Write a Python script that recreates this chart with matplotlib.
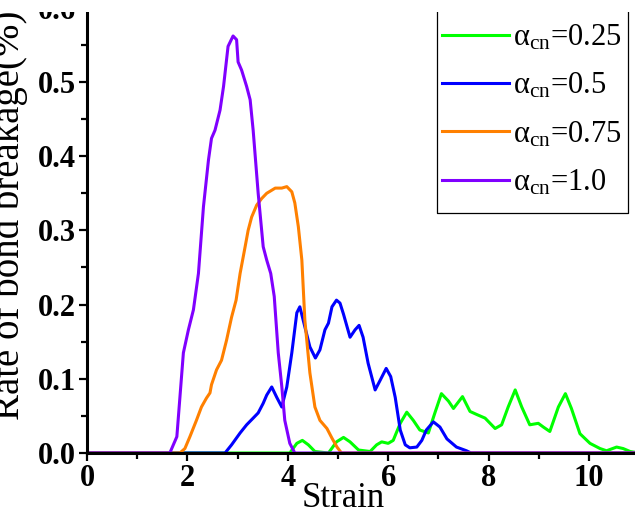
import matplotlib
matplotlib.use('Agg')
import matplotlib.pyplot as plt
from matplotlib.patches import Rectangle
from matplotlib.ticker import MultipleLocator, FormatStrFormatter

plt.rcParams['font.family'] = ['Liberation Serif', 'DejaVu Serif']
plt.rcParams['mathtext.fontset'] = 'custom'
plt.rcParams['mathtext.rm'] = 'Liberation Serif'
plt.rcParams['mathtext.it'] = 'Liberation Serif:italic'

# alpha_cn = 0.25
strain_025 = [0, 4.04, 4.18, 4.29, 4.41, 4.54, 4.81, 4.97, 5.11, 5.24, 5.41, 5.64, 5.77, 5.87,
              6.0, 6.1, 6.24, 6.37, 6.5, 6.63, 6.8, 6.93, 7.06, 7.2, 7.3, 7.48, 7.63, 7.76,
              7.93, 8.13, 8.26, 8.39, 8.53, 8.66, 8.82, 8.99, 9.09, 9.22, 9.39, 9.53, 9.65,
              9.82, 10.02, 10.22, 10.35, 10.55, 10.68, 10.82, 11.0]
rate_025 = [0, 0, 0.013, 0.017, 0.011, 0.002, 0.0, 0.015, 0.021, 0.015, 0.004, 0.002, 0.011, 0.015,
            0.013, 0.017, 0.040, 0.055, 0.044, 0.031, 0.027, 0.054, 0.080, 0.070, 0.060, 0.076, 0.056, 0.052,
            0.047, 0.033, 0.038, 0.062, 0.085, 0.062, 0.038, 0.040, 0.035, 0.029, 0.062, 0.080, 0.060,
            0.026, 0.013, 0.006, 0.003, 0.008, 0.006, 0.002, 0.0]

# alpha_cn = 0.5
strain_05 = [0, 2.75, 2.88, 3.05, 3.18, 3.31, 3.41, 3.51, 3.58, 3.68, 3.78, 3.88, 3.98, 4.08,
             4.18, 4.24, 4.34, 4.44, 4.55, 4.64, 4.74, 4.81, 4.88, 4.97, 5.04, 5.11, 5.24, 5.34,
             5.42, 5.5, 5.6, 5.74, 5.84, 5.96, 6.05, 6.14, 6.24, 6.34, 6.43, 6.57, 6.67, 6.76,
             6.9, 7.03, 7.17, 7.36, 7.56, 7.65, 11.0]
rate_05 = [0, 0, 0.011, 0.027, 0.038, 0.047, 0.054, 0.067, 0.078, 0.089, 0.075, 0.062, 0.089, 0.135,
           0.189, 0.197, 0.170, 0.143, 0.128, 0.139, 0.166, 0.175, 0.197, 0.206, 0.202, 0.187, 0.156, 0.166,
           0.172, 0.156, 0.121, 0.085, 0.098, 0.114, 0.103, 0.075, 0.031, 0.011, 0.007, 0.008, 0.017, 0.031,
           0.042, 0.035, 0.019, 0.008, 0.003, 0.0, 0.0]

# alpha_cn = 0.75
strain_075 = [0, 1.85, 1.95, 2.05, 2.18, 2.28, 2.38, 2.45, 2.48, 2.58, 2.68, 2.78, 2.88, 2.97,
              3.05, 3.15, 3.21, 3.28, 3.38, 3.48, 3.58, 3.75, 3.88, 3.98, 4.08, 4.14, 4.21, 4.28,
              4.34, 4.44, 4.54, 4.64, 4.78, 4.88, 4.98, 5.07, 11.0]
rate_075 = [0, 0, 0.006, 0.022, 0.044, 0.062, 0.074, 0.081, 0.092, 0.112, 0.125, 0.152, 0.183, 0.206,
            0.242, 0.278, 0.300, 0.318, 0.334, 0.343, 0.350, 0.357, 0.357, 0.359, 0.352, 0.337, 0.305, 0.260,
            0.179, 0.108, 0.062, 0.044, 0.033, 0.020, 0.008, 0.0, 0.0]

# alpha_cn = 1.0
strain_10 = [0, 1.65, 1.79, 1.92, 2.02, 2.12, 2.22, 2.32, 2.42, 2.48, 2.55, 2.65, 2.72, 2.81,
             2.91, 2.98, 3.01, 3.08, 3.18, 3.25, 3.31, 3.41, 3.51, 3.58, 3.66, 3.73, 3.81, 3.88,
             3.94, 4.04, 4.14, 11.0]
rate_10 = [0, 0, 0.022, 0.135, 0.166, 0.193, 0.242, 0.332, 0.395, 0.424, 0.435, 0.462, 0.494, 0.548,
           0.562, 0.557, 0.527, 0.516, 0.494, 0.476, 0.435, 0.350, 0.278, 0.260, 0.242, 0.211, 0.135, 0.090,
           0.044, 0.013, 0.0, 0.0]

labels = [r'$\mathrm{\alpha_{cn}}$=0.25', r'$\mathrm{\alpha_{cn}}$=0.5',
          r'$\mathrm{\alpha_{cn}}$=0.75', r'$\mathrm{\alpha_{cn}}$=1.0']
colors = ['#00ff00', '#0000ff', '#ff8000', '#8000ff']

fig = plt.figure(figsize=(6.35, 5.17), dpi=100)
# axes top and right run past the figure edge, as in the cropped original
ax = fig.add_axes([0.137, 0.1238, 0.8696, 0.9329])

series = [(strain_025, rate_025), (strain_05, rate_05), (strain_075, rate_075), (strain_10, rate_10)]
for (x, y), c, lab in zip(series, colors, labels):
    ax.plot(x, y, color=c, lw=2.2, label=lab, solid_joinstyle='round')

ax.set_xlim(0, 11)
ax.set_ylim(0, 0.65)
ax.xaxis.set_major_locator(MultipleLocator(2))
ax.xaxis.set_minor_locator(MultipleLocator(1))
ax.yaxis.set_major_locator(MultipleLocator(0.1))
ax.yaxis.set_minor_locator(MultipleLocator(0.05))
ax.yaxis.set_major_formatter(FormatStrFormatter('%.1f'))

for s in ax.spines.values():
    s.set_linewidth(2.2)
ax.tick_params(which='major', direction='out', length=6, width=1.6, labelsize=22, pad=2)
ax.tick_params(which='minor', direction='out', length=4, width=1.6)
for t in ax.get_xticklabels() + ax.get_yticklabels():
    t.set_fontweight('bold')

ax.set_xlabel('Strain', fontsize=25)
ax.xaxis.set_label_coords(0.4636, -0.06)
ax.set_ylabel('Rate of bond breakage(%)', fontsize=28)
ax.yaxis.set_label_coords(-0.106, 0.492)

leg = ax.legend(loc='lower left', bbox_to_anchor=(0.634, 0.52), fontsize=22,
                frameon=False, handlelength=2.2, handletextpad=0.12,
                labelspacing=0.62, borderpad=0.15, borderaxespad=0)
# legend box: left, bottom and right edges (top is outside the picture)
ax.plot([0.634, 0.634, 0.98, 0.98], [1.1, 0.498, 0.498, 1.1], color='black', lw=0.9,
        transform=ax.transAxes, clip_on=False)

# white band over the top rows, like the crop of the original
fig.patches.append(Rectangle((0, 1 - 12 / 517), 1, 12 / 517, transform=fig.transFigure,
                             facecolor='white', edgecolor='none', zorder=10))

plt.savefig('out.png', dpi=100)
